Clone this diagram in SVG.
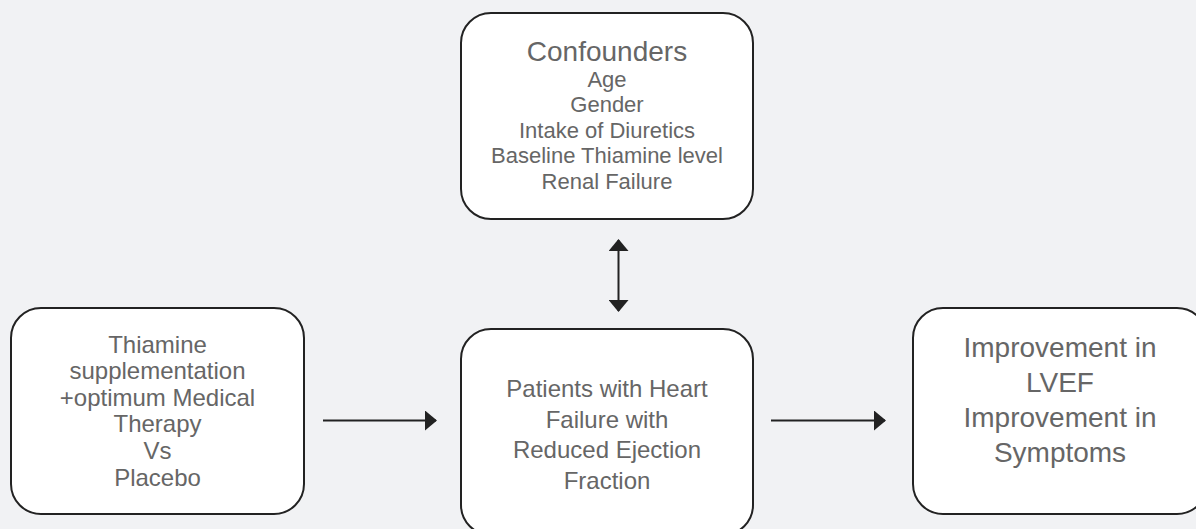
<svg xmlns="http://www.w3.org/2000/svg" width="1196" height="529" viewBox="0 0 1196 529">
  <defs>
    <style>
      .box { fill: #ffffff; stroke: #222222; stroke-width: 2; }
      .txt { font-family: "Liberation Sans", Arial, sans-serif; fill: #666666; text-anchor: middle; }
      .t22 { font-size: 22px; }
      .t24 { font-size: 24px; }
      .t28 { font-size: 28px; }
      .conn { stroke: #222222; stroke-width: 2; fill: none; }
    </style>
    <marker id="ah" viewBox="0 0 12 20" refX="11" refY="10" markerWidth="12" markerHeight="20" markerUnits="userSpaceOnUse" orient="auto-start-reverse">
      <path d="M0,0 L12,10 L0,20 Z" fill="#222222"/>
    </marker>
  </defs>
  <rect width="1196" height="529" fill="#f1f2f4"/>

  <g id="confounders">
    <rect class="box" x="461" y="13" width="292" height="206" rx="30" ry="30"/>
    <text class="txt t28" x="607" y="61">Confounders</text>
    <text class="txt t22" x="607" y="87">Age</text>
    <text class="txt t22" x="607" y="112">Gender</text>
    <text class="txt t22" x="607" y="138">Intake of Diuretics</text>
    <text class="txt t22" x="607" y="163">Baseline Thiamine level</text>
    <text class="txt t22" x="607" y="189">Renal Failure</text>
  </g>

  <g id="intervention">
    <rect class="box" x="11" y="308" width="293" height="206" rx="30" ry="30"/>
    <text class="txt t24" x="157.5" y="353">Thiamine</text>
    <text class="txt t24" x="157.5" y="379">supplementation</text>
    <text class="txt t24" x="157.5" y="406">+optimum Medical</text>
    <text class="txt t24" x="157.5" y="432">Therapy</text>
    <text class="txt t24" x="157.5" y="459">Vs</text>
    <text class="txt t24" x="157.5" y="486">Placebo</text>
  </g>

  <g id="patients">
    <rect class="box" x="461" y="329" width="292" height="206" rx="30" ry="30"/>
    <text class="txt t24" x="607" y="397">Patients with Heart</text>
    <text class="txt t24" x="607" y="428">Failure with</text>
    <text class="txt t24" x="607" y="458">Reduced Ejection</text>
    <text class="txt t24" x="607" y="489">Fraction</text>
  </g>

  <g id="outcomes">
    <rect class="box" x="913" y="308" width="294" height="206" rx="30" ry="30"/>
    <text class="txt t28" x="1060" y="357">Improvement in</text>
    <text class="txt t28" x="1060" y="392">LVEF</text>
    <text class="txt t28" x="1060" y="427">Improvement in</text>
    <text class="txt t28" x="1060" y="462">Symptoms</text>
  </g>

  <g id="connectors">
    <line class="conn" x1="323" y1="420.5" x2="436" y2="420.5" marker-end="url(#ah)"/>
    <line class="conn" x1="771" y1="420.5" x2="885" y2="420.5" marker-end="url(#ah)"/>
    <line class="conn" x1="618.5" y1="240" x2="618.5" y2="311" marker-start="url(#ah)" marker-end="url(#ah)"/>
  </g>
</svg>
